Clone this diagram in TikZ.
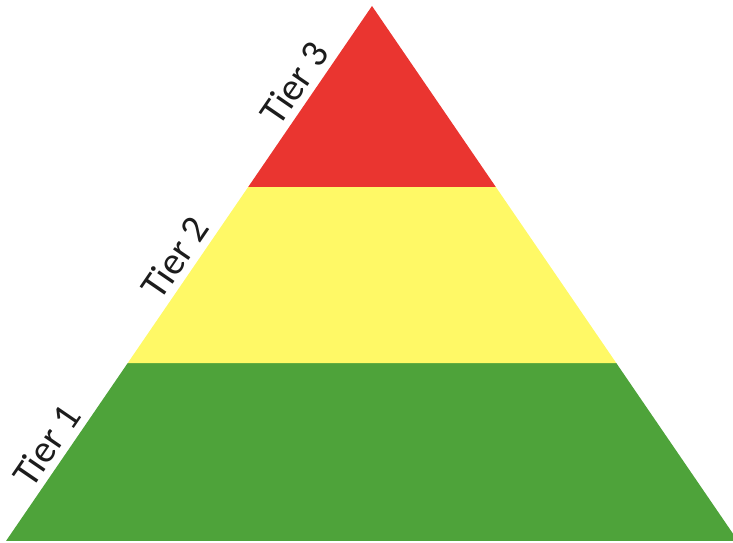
\documentclass[tikz,border=0pt]{standalone}
\usepackage{fontspec}
\setmainfont{Carlito}
\usetikzlibrary{calc}
\definecolor{cTierA}{HTML}{4EA33A}
\definecolor{cTierB}{HTML}{FFF966}
\definecolor{cTierC}{HTML}{EA3530}
\definecolor{cTxt}{HTML}{1C1C1C}

\begin{document}
\begin{tikzpicture}[
    x=1pt, y=1pt,
    tier/.style={draw=none},
    tlbl/.style={font=\fontsize{39}{44}\selectfont, text=cTxt, inner sep=2pt,
                 sloped, above, yshift=5pt},
]
\useasboundingbox (0,0) rectangle (733,543);
\clip (0,0) rectangle (733,543);

% ===========================================================================
% Pirámide: tres niveles
% ===========================================================================
\coordinate (bl) at (6,2);
\coordinate (br) at (738,2);
\coordinate (apex) at (372,537);

\coordinate (l1) at ($(bl)!0.3327!(apex)$);
\coordinate (r1) at ($(br)!0.3327!(apex)$);
\coordinate (l2) at ($(bl)!0.6617!(apex)$);
\coordinate (r2) at ($(br)!0.6617!(apex)$);

\fill[tier, cTierA] (bl) -- (br) -- (r1) -- (l1) -- cycle;
\fill[tier, cTierB] (l1) -- (r1) -- (r2) -- (l2) -- cycle;
\fill[tier, cTierC] (l2) -- (r2) -- (apex) -- cycle;

% ----- etiquetas a lo largo del lado izquierdo -----
\path (bl) -- (apex)
    node[tlbl, pos=0.157] (t1) {Tier 1}
    node[tlbl, pos=0.508] (t2) {Tier 2}
    node[tlbl, pos=0.834] (t3) {Tier 3};

\end{tikzpicture}
\end{document}
